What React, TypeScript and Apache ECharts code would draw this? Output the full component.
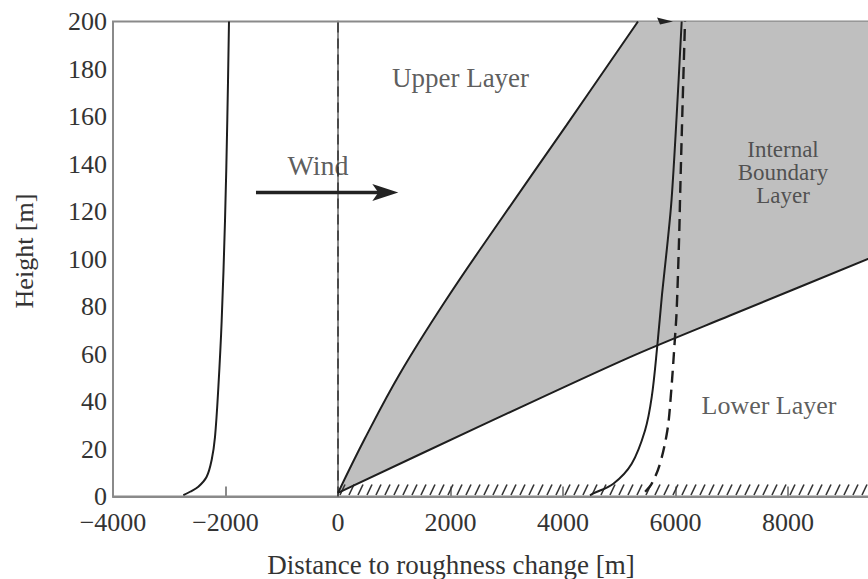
import React, { useEffect, useRef } from "react";
import * as echarts from "echarts";

// ---- data ----
const xTickMin = -4000;
const xTickMax = 10000;
const xTickStep = 2000;
const yTickMin = 0;
const yTickMax = 200;
const yTickStep = 20;

// upstream (left) wind profile
const leftProfileX = [-2750, -2630, -2483, -2335, -2246, -2187, -2127, -2068, -2009, -1968, -1938];
const leftProfileY = [0.6, 2, 4.1, 8.3, 15.4, 25, 46, 74, 116, 158.5, 200];

// internal boundary layer, upper edge
const iblUpperX = [0, 480, 1102, 1902, 2821, 4066, 5333];
const iblUpperY = [1.5, 24.5, 51.8, 82.1, 114.1, 156.5, 200];

// internal boundary layer, lower edge
const iblLowerX = [0, 2524, 5191, 6969, 9422, 10000];
const iblLowerY = [1.5, 29.6, 58.7, 76.2, 100, 105.6];

// downstream profile (solid)
const nearProfileX = [4480, 4540, 4895, 5221, 5458, 5577, 5677, 5760, 5850, 5930, 6020, 6110];
const nearProfileY = [0.5, 1.3, 5.4, 13.8, 27.8, 41.8, 63.6, 85, 105, 125, 160, 200];

// downstream profile (dashed)
const farProfileX = [5460, 5577, 5724, 5855, 5915, 5991, 6021, 6068, 6080, 6120, 6169];
const farProfileY = [2, 5.4, 13.8, 27.8, 41.8, 67, 78.5, 112, 124.6, 160, 200];

// roughness change line
const changeLineX = [0, 0];
const changeLineY = [0, 200];

// wind arrow (start x, end x, height)
const windArrow = [-1458, 1072, 128];
// small arrowhead at the top
const topArrow = [5956, 200];

// annotations
const labelTexts = ["Wind", "Upper Layer", "Internal\nBoundary\nLayer", "Lower Layer"];
const labelX = [-356, 2178, 7911, 7662];
const labelY = [139.2, 176.2, 136.4, 38.2];
const labelSizes = [28, 27, 23, 26];

const FONT = "'Liberation Serif', 'Times New Roman', serif";
const INK = "#1e1e1e";
const TEXT = "#333333";
const AXIS = "#8a8a8a";

const pairs = (xs: number[], ys: number[]) => xs.map((x, i) => [x, ys[i]]);

export default function App() {
  const ref = useRef<HTMLDivElement>(null);
  useEffect(() => {
    const chart = echarts.init(ref.current!, null, { renderer: "svg" });
    const option: any = {
      animation: false,
      backgroundColor: "#fff",
      grid: {
        left: 113,
        top: 21.5,
        width: 787.5,
        height: 475,
        containLabel: false,
        outerBoundsMode: "none",
        show: true,
        borderColor: AXIS,
        borderWidth: 2,
        backgroundColor: "transparent",
      },
      xAxis: {
        type: "value",
        min: xTickMin,
        max: xTickMax,
        interval: xTickStep,
        splitLine: { show: false },
        axisLine: { show: true, lineStyle: { color: AXIS, width: 2 } },
        axisTick: { show: true, inside: true, length: 10, lineStyle: { color: AXIS, width: 2 } },
        axisLabel: {
          margin: 16,
          showMaxLabel: false,
          fontFamily: FONT,
          fontSize: 26,
          lineHeight: 20,
          color: TEXT,
          formatter: (v: number) => (v < 0 ? "\u2212" + Math.abs(v) : String(v)),
        },
      },
      yAxis: {
        type: "value",
        min: yTickMin,
        max: yTickMax,
        interval: yTickStep,
        splitLine: { show: false },
        axisLine: { show: true, lineStyle: { color: AXIS, width: 2 } },
        axisTick: { show: false },
        axisLabel: { margin: 6, fontFamily: FONT, fontSize: 26, lineHeight: 20, color: TEXT },
      },
      graphic: [
        {
          type: "text",
          x: 451,
          y: 565,
          style: {
            text: "Distance to roughness change [m]",
            font: `27px ${FONT}`,
            fill: TEXT,
            textAlign: "center",
            textVerticalAlign: "middle",
          },
        },
        {
          type: "text",
          x: 24,
          y: 251,
          rotation: Math.PI / 2,
          style: {
            text: "Height [m]",
            font: `26px ${FONT}`,
            fill: TEXT,
            textAlign: "center",
            textVerticalAlign: "middle",
          },
        },
      ],
      series: [
        {
          type: "custom",
          name: "IBL area",
          z: 1,
          clip: true,
          silent: true,
          data: [[0, 0]],
          renderItem: (_p: any, api: any) => {
            const pts: number[][] = [];
            iblUpperX.forEach((x, i) => pts.push(api.coord([x, iblUpperY[i]])));
            pts.push(api.coord([xTickMax, yTickMax]));
            for (let i = iblLowerX.length - 1; i >= 0; i--) pts.push(api.coord([iblLowerX[i], iblLowerY[i]]));
            return { type: "polygon", shape: { points: pts, smooth: 0 }, style: { fill: "#bfbfbf" } };
          },
        },
        {
          type: "custom",
          name: "ground",
          z: 3,
          clip: true,
          silent: true,
          data: [[0, 0]],
          renderItem: (_p: any, api: any) => {
            const a = api.coord([0, 0]);
            const b = api.coord([xTickMax, 0]);
            const children: any[] = [];
            for (let x = a[0] + 2; x < b[0]; x += 9) {
              children.push({
                type: "line",
                shape: { x1: x, y1: a[1] - 1.5, x2: x + 5, y2: a[1] - 12 },
                style: { stroke: "#333", lineWidth: 1.6 },
              });
            }
            return { type: "group", children };
          },
        },
        {
          type: "line",
          name: "upstream profile",
          data: pairs(leftProfileX, leftProfileY),
          smooth: 0.35,
          showSymbol: false,
          z: 4,
          lineStyle: { color: INK, width: 2 },
        },
        {
          type: "line",
          name: "roughness change",
          data: pairs(changeLineX, changeLineY),
          showSymbol: false,
          z: 4,
          lineStyle: { color: "#333", width: 1.5, type: [10, 6] },
        },
        {
          type: "line",
          name: "IBL upper",
          data: pairs(iblUpperX, iblUpperY),
          smooth: 0.4,
          showSymbol: false,
          z: 4,
          lineStyle: { color: INK, width: 2 },
        },
        {
          type: "line",
          name: "IBL lower",
          data: pairs(iblLowerX, iblLowerY),
          smooth: 0.3,
          showSymbol: false,
          z: 4,
          lineStyle: { color: INK, width: 2 },
        },
        {
          type: "line",
          name: "downstream profile",
          data: pairs(nearProfileX, nearProfileY),
          smooth: 0.35,
          showSymbol: false,
          z: 5,
          lineStyle: { color: INK, width: 2 },
        },
        {
          type: "line",
          name: "equilibrium profile",
          data: pairs(farProfileX, farProfileY),
          smooth: 0.35,
          showSymbol: false,
          z: 5,
          lineStyle: { color: INK, width: 2.4, type: [12, 7] },
        },
        {
          type: "custom",
          name: "arrows",
          z: 6,
          clip: false,
          silent: true,
          data: [[0, 0]],
          renderItem: (_p: any, api: any) => {
            const s = api.coord([windArrow[0], windArrow[2]]);
            const e = api.coord([windArrow[1], windArrow[2]]);
            const t = api.coord(topArrow);
            return {
              type: "group",
              children: [
                {
                  type: "line",
                  shape: { x1: s[0], y1: s[1], x2: e[0] - 18, y2: e[1] },
                  style: { stroke: "#222", lineWidth: 3.3 },
                },
                {
                  type: "polygon",
                  shape: {
                    points: [
                      [e[0], e[1]],
                      [e[0] - 26, e[1] - 8.5],
                      [e[0] - 20, e[1]],
                      [e[0] - 26, e[1] + 8.5],
                    ],
                  },
                  style: { fill: "#222" },
                },
                {
                  type: "polygon",
                  shape: {
                    points: [
                      [t[0], t[1]],
                      [t[0] - 16, t[1] - 4],
                      [t[0] - 13, t[1] + 3],
                    ],
                  },
                  style: { fill: "#222" },
                },
              ],
            };
          },
        },
        {
          type: "scatter",
          name: "labels",
          z: 7,
          silent: true,
          symbolSize: 0,
          data: labelTexts.map((txt, i) => ({
            value: [labelX[i], labelY[i]],
            label: {
              show: true,
              position: "inside",
              formatter: txt,
              fontFamily: FONT,
              fontSize: labelSizes[i],
              lineHeight: i === 2 ? 23 : labelSizes[i],
              color: TEXT,
              align: "center",
              verticalAlign: "middle",
            },
          })),
        },
      ],
    };
    chart.setOption(option);
    return () => chart.dispose();
  }, []);
  return (
    <div
      ref={ref}
      style={{ position: "fixed", left: 0, top: 0, width: 868, height: 579, background: "#fff" }}
    />
  );
}
